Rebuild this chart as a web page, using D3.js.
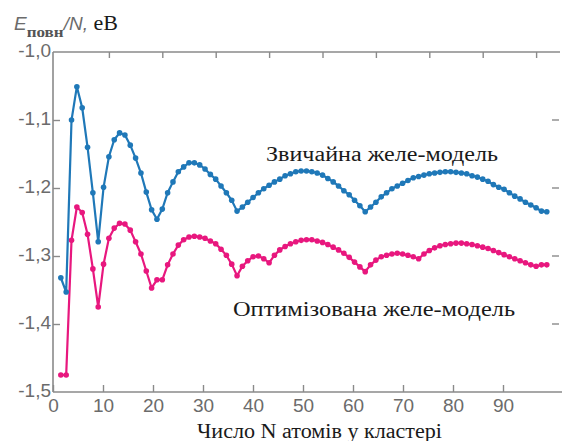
<!DOCTYPE html>
<html>
<head>
<meta charset="utf-8">
<script src="https://cdn.jsdelivr.net/npm/d3@7"></script>
<style>
  body { margin: 0; background: #fff; }
  .tick text { font-family: "Liberation Sans", Arial, sans-serif; fill: #6b6b6b; }
  .serif { font-family: "Liberation Serif", "Times New Roman", serif; fill: #1a1a1a; }
</style>
</head>
<body>
<div id="chart"></div>
<script>
// Data: number of atoms N and energy per atom (eV)
var atoms = d3.range(1, 93);

// ordinary jellium model
var usualModel = [
  -1.332, -1.353, -1.100, -1.051, -1.082, -1.140, -1.207, -1.279, -1.199, -1.154,
  -1.129, -1.119, -1.122, -1.137, -1.156, -1.178, -1.206, -1.232, -1.246, -1.231,
  -1.207, -1.191, -1.176, -1.169, -1.163, -1.163, -1.166, -1.172, -1.180, -1.187,
  -1.197, -1.207, -1.218, -1.234, -1.228, -1.221, -1.214, -1.207, -1.201, -1.196,
  -1.191, -1.187, -1.182, -1.179, -1.176, -1.175, -1.175, -1.176, -1.178, -1.181,
  -1.186, -1.191, -1.197, -1.204, -1.210, -1.218, -1.226, -1.235, -1.228, -1.221,
  -1.213, -1.207, -1.201, -1.197, -1.193, -1.189, -1.185, -1.183, -1.181, -1.179,
  -1.178, -1.177, -1.176, -1.176, -1.177, -1.178, -1.179, -1.182, -1.184, -1.187,
  -1.190, -1.195, -1.199, -1.202, -1.207, -1.212, -1.216, -1.221, -1.225, -1.229,
  -1.234, -1.235
];

// optimized jellium model
var optModel = [
  -1.475, -1.475, -1.277, -1.228, -1.236, -1.268, -1.319, -1.375, -1.312, -1.274,
  -1.259, -1.252, -1.253, -1.262, -1.279, -1.297, -1.322, -1.347, -1.335, -1.335,
  -1.313, -1.297, -1.284, -1.276, -1.272, -1.271, -1.272, -1.274, -1.278, -1.282,
  -1.290, -1.299, -1.312, -1.329, -1.315, -1.307, -1.301, -1.300, -1.304, -1.310,
  -1.299, -1.291, -1.286, -1.282, -1.279, -1.277, -1.276, -1.276, -1.278, -1.280,
  -1.283, -1.287, -1.291, -1.296, -1.302, -1.309, -1.316, -1.323, -1.313, -1.306,
  -1.301, -1.299, -1.297, -1.296, -1.297, -1.299, -1.301, -1.304, -1.297, -1.292,
  -1.288, -1.285, -1.283, -1.282, -1.281, -1.281, -1.282, -1.283, -1.285, -1.287,
  -1.289, -1.292, -1.295, -1.298, -1.301, -1.304, -1.307, -1.310, -1.313, -1.315,
  -1.313, -1.313
];

var xTicks = [0, 10, 20, 30, 40, 50, 60, 70, 80, 90];
var yTicks = [-1.5, -1.4, -1.3, -1.2, -1.1, -1.0];

var usualLabel = "Звичайна желе-модель";
var optLabel = "Оптимізована желе-модель";
var xTitle = "Число N атомів у кластері";

var svgWidth = 562;
var svgHeight = 441;

var svg = d3.select("#chart")
  .append("svg")
  .attr("width", svgWidth)
  .attr("height", svgHeight);

// the data sits on its own (top) scale, the bottom labels are a bit tighter
var xScale = d3.scaleLinear().domain([0, 100]).range([55.5, 589.5]);
var xLabelScale = d3.scaleLinear().domain([0, 100]).range([53, 553]);
var yScale = d3.scaleLinear().domain([-1.5, -1.0]).range([392, 52]);

var axisColor = "#8a8a8a";

// frame lines
svg.append("line").attr("x1", 53).attr("x2", 53).attr("y1", 52).attr("y2", 392)
  .attr("stroke", axisColor).attr("stroke-width", 1.6);
svg.append("line").attr("x1", 53).attr("x2", 560).attr("y1", 52).attr("y2", 52)
  .attr("stroke", axisColor).attr("stroke-width", 1.6);
svg.append("line").attr("x1", 53).attr("x2", 562).attr("y1", 392).attr("y2", 392)
  .attr("stroke", axisColor).attr("stroke-width", 1.6);

// bottom axis (ticks point inward)
var bottomAxis = d3.axisBottom(xLabelScale).tickValues(xTicks).tickSize(-7).tickPadding(10)
  .tickFormat(d3.format("d"));
var xAxis = svg.append("g")
  .attr("transform", "translate(0, 392)")
  .call(bottomAxis);
xAxis.select(".domain").remove();
xAxis.selectAll(".tick line").attr("stroke", axisColor).attr("stroke-width", 1.4);
xAxis.selectAll(".tick text").attr("font-size", 19).attr("dy", "0.5em");

// top axis, no labels
var topAxis = d3.axisTop(xScale).tickValues(xTicks.slice(1)).tickSize(-6).tickFormat("");
var tAxis = svg.append("g")
  .attr("transform", "translate(0, 52)")
  .call(topAxis);
tAxis.select(".domain").remove();
tAxis.selectAll(".tick line").attr("stroke", axisColor).attr("stroke-width", 1.4);

// left axis
var leftAxis = d3.axisLeft(yScale).tickValues(yTicks).tickSize(-7).tickPadding(10)
  .tickFormat(function (d) { return d3.format(".1f")(d).replace("−", "-").replace(".", ","); });
var yAxis = svg.append("g")
  .attr("transform", "translate(53, 0)")
  .call(leftAxis);
yAxis.select(".domain").remove();
yAxis.selectAll(".tick line").attr("stroke", axisColor).attr("stroke-width", 1.4)
  .filter(function (d) { return d === -1.0 || d === -1.5; }).remove();
yAxis.selectAll(".tick text").attr("font-size", 19).attr("x", -2).attr("dy", "0.25em");

// right side ticks
svg.selectAll(".rtick")
  .data(yTicks.slice(1, 5))
  .enter()
  .append("line")
  .attr("class", "rtick")
  .attr("x1", 552).attr("x2", 559)
  .attr("y1", d => yScale(d)).attr("y2", d => yScale(d))
  .attr("stroke", axisColor).attr("stroke-width", 1.4);

// series
function drawSeries(values, color) {
  var pts = atoms.map((n, i) => ({ n: n, v: values[i] }));
  var line = d3.line().x(d => xScale(d.n)).y(d => yScale(d.v));
  svg.append("path")
    .datum(pts)
    .attr("fill", "none")
    .attr("stroke", color)
    .attr("stroke-width", 2.2)
    .attr("d", line);
  svg.append("g").selectAll("circle")
    .data(pts)
    .enter()
    .append("circle")
    .attr("cx", d => xScale(d.n))
    .attr("cy", d => yScale(d.v))
    .attr("r", 2.8)
    .attr("fill", color);
}

drawSeries(optModel, "#e8177e");
drawSeries(usualModel, "#1f78b8");

// series labels
svg.append("text").attr("class", "serif")
  .attr("x", 266).attr("y", 161)
  .attr("font-size", 20)
  .attr("textLength", 232)
  .attr("lengthAdjust", "spacingAndGlyphs")
  .text(usualLabel);

svg.append("text").attr("class", "serif")
  .attr("x", 233).attr("y", 316)
  .attr("font-size", 20)
  .attr("textLength", 282)
  .attr("lengthAdjust", "spacingAndGlyphs")
  .text(optLabel);

// x axis title
svg.append("text").attr("class", "serif")
  .attr("x", 197).attr("y", 438)
  .attr("font-size", 20)
  .attr("textLength", 245)
  .attr("lengthAdjust", "spacingAndGlyphs")
  .text(xTitle);

// y axis title
var yTitle = svg.append("text").attr("x", 14).attr("y", 30);
yTitle.append("tspan")
  .attr("font-family", "Liberation Sans, Arial, sans-serif")
  .attr("font-style", "italic")
  .attr("font-size", 19)
  .attr("fill", "#6b6b6b")
  .text("E");
yTitle.append("tspan")
  .attr("font-family", "Liberation Serif, serif")
  .attr("font-size", 14)
  .attr("font-weight", "bold")
  .attr("fill", "#555")
  .attr("dy", 7)
  .attr("textLength", 37)
  .attr("lengthAdjust", "spacingAndGlyphs")
  .text("повн");
yTitle.append("tspan")
  .attr("font-family", "Liberation Sans, Arial, sans-serif")
  .attr("font-style", "italic")
  .attr("font-size", 19)
  .attr("fill", "#6b6b6b")
  .attr("dy", -7)
  .text("/N,");
yTitle.append("tspan")
  .attr("font-family", "Liberation Serif, serif")
  .attr("font-size", 22)
  .attr("fill", "#1a1a1a")
  .text(" eB");
</script>
</body>
</html>
